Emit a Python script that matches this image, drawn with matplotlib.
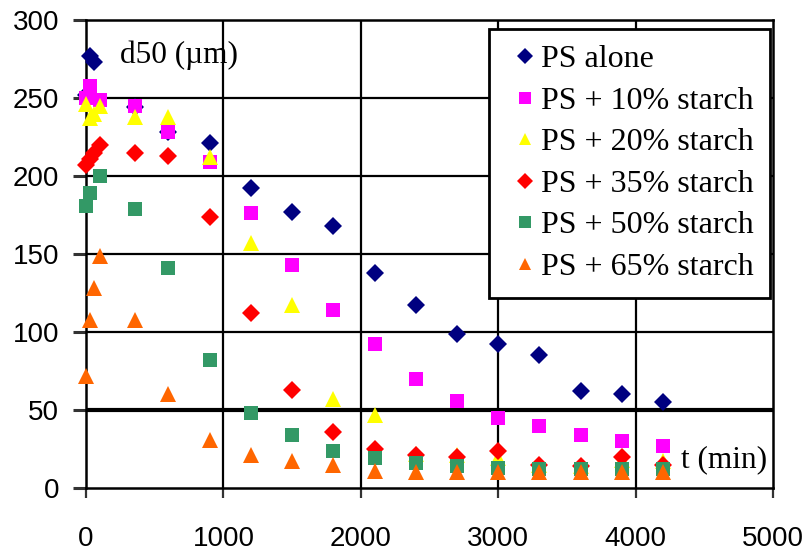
import matplotlib

matplotlib.use("Agg")
import matplotlib.pyplot as plt

# time (min) for each series and d50 (um)
t_alone = [0, 30, 60, 360, 600, 900, 1200, 1500, 1800, 2100, 2400, 2700, 3000, 3300, 3600, 3900, 4200]
d_alone = [252, 277, 273, 244, 228, 221, 192, 177, 168, 138, 117, 99, 92, 85, 62, 60, 55]

t_10 = [0, 30, 105, 360, 600, 900, 1200, 1500, 1800, 2100, 2400, 2700, 3000, 3300, 3600, 3900, 4200]
d_10 = [250, 258, 249, 245, 228, 209, 176, 143, 114, 92, 70, 56, 45, 40, 34, 30, 27]

t_20 = [0, 30, 60, 105, 360, 600, 900, 1200, 1500, 1800, 2100, 2400, 2700, 3000, 3300, 3600, 3900, 4200]
d_20 = [246, 237, 240, 245, 238, 238, 212, 157, 117, 57, 47, 22, 21, 19, 15, 14, 18, 17]

t_35 = [0, 30, 60, 105, 360, 600, 900, 1200, 1500, 1800, 2100, 2400, 2700, 3000, 3300, 3600, 3900, 4200]
d_35 = [207, 211, 215, 220, 215, 213, 174, 112, 63, 36, 25, 21, 20, 24, 15, 14, 20, 15]

t_50 = [0, 30, 105, 360, 600, 900, 1200, 1500, 1800, 2100, 2400, 2700, 3000, 3300, 3600, 3900, 4200]
d_50 = [181, 189, 200, 179, 141, 82, 48, 34, 24, 19, 16, 14, 13, 12, 12, 12, 12]

t_65 = [0, 30, 60, 105, 360, 600, 900, 1200, 1500, 1800, 2100, 2400, 2700, 3000, 3300, 3600, 3900, 4200]
d_65 = [72, 108, 128, 149, 108, 60, 31, 21, 17, 15, 11, 10, 10, 10, 10, 10, 10, 10]

SERIES = [
    ("PS alone", t_alone, d_alone, "D", 9.5, "#000080"),
    ("PS + 10% starch", t_10, d_10, "s", 9.5, "#ff00ff"),
    ("PS + 20% starch", t_20, d_20, "^", 11, "#ffff00"),
    ("PS + 35% starch", t_35, d_35, "D", 9.5, "#ff0000"),
    ("PS + 50% starch", t_50, d_50, "s", 9.5, "#339966"),
    ("PS + 65% starch", t_65, d_65, "^", 11, "#ff6600"),
]

W, H = 809, 553
X0, X1, Y0, Y1 = 86, 773, 488, 20   # plot area in pixels
fig = plt.figure(figsize=(W / 100, H / 100), dpi=100)
ax = fig.add_axes([X0 / W, (H - Y0) / H, (X1 - X0) / W, (Y0 - Y1) / H])


def axfrac(px, py):
    return (px - X0) / (X1 - X0), (Y0 - py) / (Y0 - Y1)


for label, t, d, mk, ms, col in SERIES:
    ax.plot(t, d, linestyle="none", marker=mk, ms=ms, color=col,
            markeredgewidth=0, label=label, zorder=3, clip_on=False)

ax.set_xlim(0, 5000)
ax.set_ylim(0, 300)
ax.set_xticks(range(0, 5001, 1000))
ax.set_yticks(range(0, 301, 50))

for x in range(1000, 5000, 1000):
    ax.axvline(x, color="black", lw=1.6, zorder=1)
for y in range(50, 300, 50):
    ax.axhline(y, color="black", lw=3.0 if y == 50 else 1.6, zorder=1)

for sp in ax.spines.values():
    sp.set_color("black")
    sp.set_linewidth(1.8)

ax.tick_params(axis="y", direction="out", length=9.5, width=2.2,
               color="#333333", pad=10)
ax.tick_params(axis="x", direction="out", length=7, width=1.6,
               color="#333333", pad=20)
for lab in ax.get_xticklabels() + ax.get_yticklabels():
    lab.set_fontfamily("Liberation Sans")
    lab.set_fontsize(20)

ax.text(*axfrac(120, 63), "d50 (\u00b5m)", transform=ax.transAxes,
        family="Liberation Serif", fontsize=22.5, ha="left", va="baseline")
ax.text(*axfrac(767, 467), "t (min)", transform=ax.transAxes,
        family="Liberation Serif", fontsize=22.5, ha="right", va="baseline")

leg = ax.legend(loc="upper right", bbox_to_anchor=axfrac(770, 29),
                prop={"family": "Liberation Serif", "size": 23},
                frameon=True, fancybox=False, framealpha=1,
                edgecolor="black", handlelength=1.3, handletextpad=-0.15,
                labelspacing=0.38, borderpad=0.5, borderaxespad=0)
leg.get_frame().set_linewidth(2.0)
leg.set_zorder(5)
for h in leg.legend_handles:
    h.set_markersize(h.get_markersize() * 0.85)

fig.savefig("out.png", dpi=100, facecolor="white")
